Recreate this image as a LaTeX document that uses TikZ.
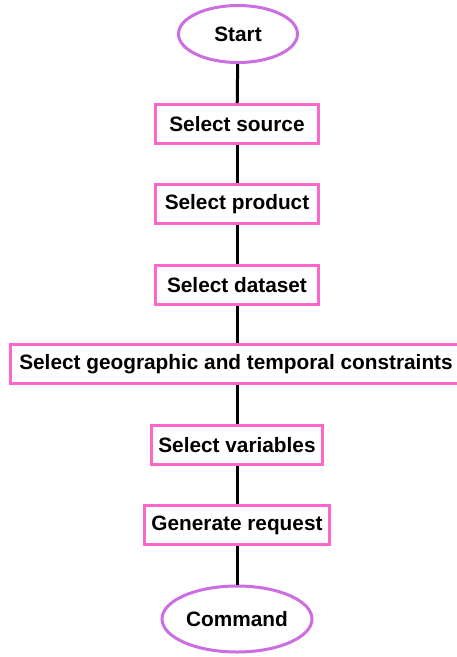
\documentclass[tikz,border=0pt]{standalone}
\usepackage{fontspec}
\setmainfont{Liberation Sans}
\usetikzlibrary{shapes.geometric}
\definecolor{boxpink}{RGB}{255,102,204}
\definecolor{ovalviolet}{RGB}{204,110,226}
\tikzset{
  stepbox/.style={draw=boxpink, line width=3pt, fill=white, rectangle,
    minimum width=163pt, minimum height=39pt, inner xsep=6.5pt,
    font=\fontsize{20.8}{24}\selectfont\bfseries},
  terminal/.style={draw=ovalviolet, line width=3pt, fill=white, ellipse,
    inner sep=0pt, font=\fontsize{20.8}{24}\selectfont\bfseries},
  flow/.style={draw=black, line width=3pt}
}
\begin{document}
\begin{tikzpicture}[x=1pt,y=1pt]
  \useasboundingbox (0,0) rectangle (456,-657);
  \node[terminal, minimum width=119pt, minimum height=57pt] (start) at (238,-34) {Start};
  \node[stepbox] (source) at (237,-124) {Select source};
  \node[stepbox] (product) at (237,-204) {Select product};
  \node[stepbox] (dataset) at (237,-285) {Select dataset};
  \node[stepbox, inner xsep=9pt] (constraints) at (236,-364) {Select geographic and temporal constraints};
  \node[stepbox] (variables) at (237,-445) {Select variables};
  \node[stepbox] (request) at (237,-525) {Generate request};
  \node[terminal, minimum width=150pt, minimum height=66pt] (command) at (237,-619) {Command};
  \draw[flow] (start) -- (source);
  \draw[flow] (source) -- (product);
  \draw[flow] (product) -- (dataset);
  \draw[flow] (dataset.south) -- (dataset.south |- constraints.north);
  \draw[flow] (constraints.south -| variables.north) -- (variables.north);
  \draw[flow] (variables) -- (request);
  \draw[flow] (request) -- (command);
\end{tikzpicture}
\end{document}
